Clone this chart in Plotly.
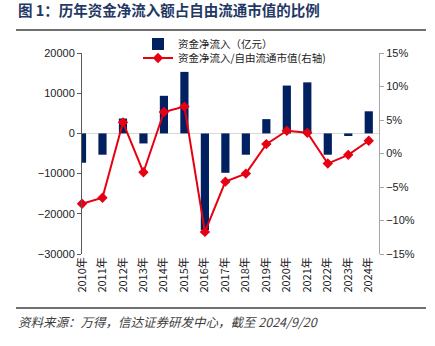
import plotly.graph_objects as go

years = ["2010年", "2011年", "2012年", "2013年", "2014年", "2015年", "2016年", "2017年",
         "2018年", "2019年", "2020年", "2021年", "2022年", "2023年", "2024年"]
net_inflow = [-7300, -5300, 3700, -2500, 9350, 15300, -24000, -9800,
              -5300, 3550, 11900, 12700, -5300, -650, 5500]
ratio_pct = [-7.5, -6.6, 4.65, -2.8, 6.2, 7.0, -11.7, -4.2,
             -3.0, 1.4, 3.4, 3.1, -1.5, -0.2, 1.9]
left_ticks = [-30000, -20000, -10000, 0, 10000, 20000]
right_ticks = [-15, -10, -5, 0, 5, 10, 15]
right_labels = ["−15%", "−10%", "−5%", "0%", "5%", "10%", "15%"]

W, H = 435, 346
ML, MR, MT, MB = 82, 56, 53, 92
PW, PH = W - ML - MR, H - MT - MB

def px(x):
    return (x - ML) / PW

def py(y):
    return (H - MB - y) / PH

cjk = "Noto Sans CJK SC"
latin = "Liberation Sans, Arial"

fig = go.Figure()
fig.add_trace(go.Bar(
    x=years, y=net_inflow, name="资金净流入（亿元）",
    marker=dict(color="#002060", line=dict(width=0)), width=0.4, yaxis="y",
    legend="legend",
))
fig.add_trace(go.Scatter(
    x=years, y=ratio_pct, name="资金净流入/自由流通市值(右轴)",
    mode="lines+markers", line=dict(color="#E60012", width=2),
    marker=dict(symbol="diamond", size=8, color="#E60012"),
    yaxis="y2", cliponaxis=False, legend="legend2",
))

leg_common = dict(xanchor="left", yanchor="middle", orientation="v",
                  font=dict(family=cjk, size=10.5, color="#222"),
                  bgcolor="rgba(0,0,0,0)", itemwidth=30)

fig.update_layout(
    width=W, height=H,
    margin=dict(l=ML, r=MR, t=MT, b=MB),
    paper_bgcolor="white", plot_bgcolor="white",
    showlegend=True,
    legend=dict(x=px(138), y=py(44), **leg_common),
    legend2=dict(x=px(138), y=py(58), **leg_common),
    xaxis=dict(
        type="category", range=[0, 14.5], showline=False, ticks="",
        tickangle=-90, tickfont=dict(family=cjk, size=11, color="#222"),
        showgrid=False, zeroline=False,
    ),
    yaxis=dict(
        range=[-30000, 20000], tickvals=left_ticks, tickformat="d",
        showline=True, linecolor="#595959", linewidth=1,
        ticks="outside", ticklen=4, tickcolor="#595959",
        tickfont=dict(family=latin, size=11, color="#222"),
        showgrid=False, zeroline=True, zerolinecolor="#D9D9D9", zerolinewidth=1,
    ),
    yaxis2=dict(
        range=[-15, 15], tickvals=right_ticks, ticktext=right_labels,
        overlaying="y", side="right",
        showline=True, linecolor="#A6A6A6", linewidth=1,
        ticks="outside", ticklen=4, tickcolor="#A6A6A6",
        tickfont=dict(family=latin, size=11, color="#222"),
        showgrid=False, zeroline=False,
    ),
    barmode="overlay",
    shapes=[
        dict(type="line", xref="paper", yref="paper", x0=px(16), x1=px(426),
             y0=py(30), y1=py(30), line=dict(color="#404040", width=1.5)),
        dict(type="line", xref="paper", yref="paper", x0=px(16), x1=px(426),
             y0=py(308), y1=py(308), line=dict(color="#404040", width=1.5)),
    ],
    annotations=[
        dict(text="<b>图 1：历年资金净流入额占自由流通市值的比例</b>", xref="paper", yref="paper",
             x=px(16), y=py(10), xanchor="left", yanchor="middle", showarrow=False,
             font=dict(family=cjk, size=14.5, color="#1F3864")),
        dict(text="<i>资料来源：万得，信达证券研发中心，截至 2024/9/20</i>", xref="paper", yref="paper",
             x=px(16), y=py(321), xanchor="left", yanchor="middle", showarrow=False,
             font=dict(family=cjk, size=12.5, color="#404040")),
    ],
)

fig.write_html("out.html")
